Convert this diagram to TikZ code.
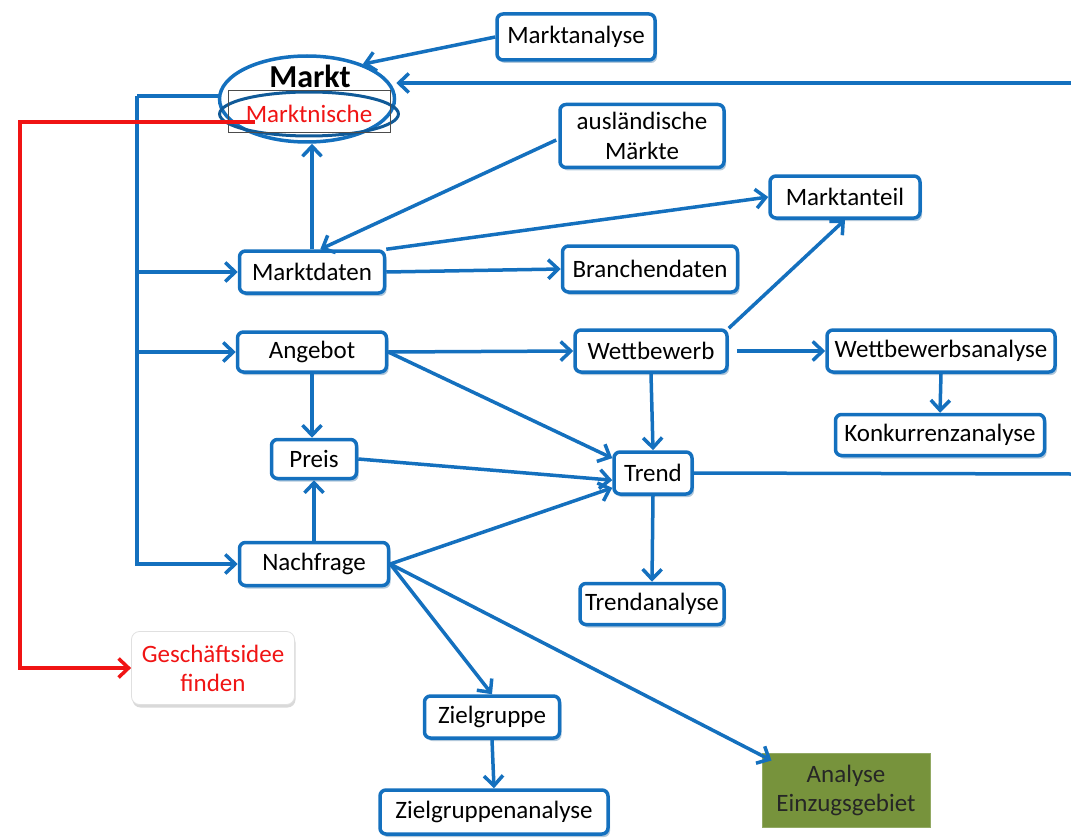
\documentclass[tikz,border=0pt]{standalone}
\usepackage{fontspec}
\setmainfont{Carlito}
\usetikzlibrary{arrows.meta,shapes.geometric,shadows}
\definecolor{cblue}{RGB}{20,112,190}
\definecolor{cred}{RGB}{240,20,20}
\definecolor{colive}{RGB}{119,147,60}
\begin{document}
\begin{tikzpicture}[x=1pt,y=-1pt,
  font=\fontsize{25}{29}\selectfont,
  box/.style={draw=cblue,line width=3.5pt,rounded corners=6pt,fill=white,inner sep=0pt,
     drop shadow={shadow xshift=2pt,shadow yshift=-3pt,opacity=0.4,fill=cblue!60!gray}},
  arr/.style={draw=cblue,line width=3.5pt,-{Straight Barb[length=10pt,width=19pt,line width=3.5pt]}},
  ln/.style={draw=cblue,line width=3.5pt},
  redarr/.style={draw=cred,line width=3.5pt,-{Straight Barb[length=10pt,width=19pt,line width=3.5pt]}}
]
\useasboundingbox (0,0) rectangle (1071,840);
% Markt
\node[ellipse,draw=cblue,line width=3.5pt,fill=white,minimum width=175pt,minimum height=86pt,inner sep=0pt] (markt) at (307,99) {};
\node[font=\fontsize{32}{36}\selectfont\bfseries] (markttxt) at (310,76) {Markt};
\node[ellipse,draw=cblue!80!black,line width=3pt,minimum width=160pt,minimum height=44pt,inner sep=0pt,text=cred] (nische) at (309,114) {Marktnische};
\node[draw=black!70,line width=0.8pt,minimum width=162pt,minimum height=42pt,inner sep=0pt] (nrect) at (309,111) {};
% boxes
\node[box,minimum width=158pt,minimum height=46pt] (mana) at (576,37) {Marktanalyse};
\node[box,minimum width=164pt,minimum height=63pt,align=center,font=\fontsize{25}{30}\selectfont] (ausl) at (642,136) {ausländische\\Märkte};
\node[box,minimum width=150pt,minimum height=42pt] (manteil) at (845,197) {Marktanteil};
\node[box,minimum width=145pt,minimum height=42pt] (mdaten) at (312,272) {Marktdaten};
\node[box,minimum width=175pt,minimum height=46pt] (branchen) at (650,269) {Branchendaten};
\node[box,minimum width=149pt,minimum height=40pt] (angebot) at (312,352) {Angebot};
\node[box,minimum width=152pt,minimum height=42pt] (wett) at (651,351) {Wettbewerb};
\node[box,minimum width=228pt,minimum height=42pt] (wana) at (941,351) {Wettbewerbsanalyse};
\node[box,minimum width=209pt,minimum height=41pt] (konk) at (940,435) {Konkurrenzanalyse};
\node[box,minimum width=85pt,minimum height=39pt] (preis) at (314,459) {Preis};
\node[box,minimum width=78pt,minimum height=42pt] (trend) at (653,473) {Trend};
\node[box,minimum width=149pt,minimum height=43pt] (nachfrage) at (314,564) {Nachfrage};
\node[box,minimum width=144pt,minimum height=41pt] (tana) at (652,604) {Trendanalyse};
\node[box,minimum width=135pt,minimum height=42pt] (ziel) at (492,717) {Zielgruppe};
\node[box,minimum width=228pt,minimum height=44pt] (zana) at (494,812) {Zielgruppenanalyse};
\node[rounded corners=8pt,fill=white,draw=black!12,line width=0.8pt,minimum width=163pt,minimum height=73pt,inner sep=0pt,align=center,text=cred,
  drop shadow={shadow xshift=1pt,shadow yshift=-3pt,opacity=0.3,fill=gray}] (gesch) at (213,668) {Geschäftsidee\\finden};
\node[fill=colive,draw=colive!80!white,line width=1pt,minimum width=168pt,minimum height=74pt,inner sep=0pt,align=center,text=black!85] (einz) at (846,790) {Analyse\\Einzugsgebiet};
% coordinates
\coordinate (rtop) at (1071,83);
\coordinate (rtrend) at (1071,474);
\coordinate (busTop) at (137,96);
\coordinate (rs) at (255,122);
\coordinate (redcorner) at (20,122);
% connectors
\draw[arr] (mana.west) -- (markt.32);
\draw[arr] (rtop) -- (rtop -| markt.east);
\draw[ln] (markt.west |- busTop) -- (busTop);
\draw[arr] (busTop) |- (nachfrage.west);
\draw[arr] (busTop |- mdaten.west) -- (mdaten.west);
\draw[arr] (busTop |- angebot.west) -- (angebot.west);
\draw[redarr] (rs) -- (redcorner) |- (gesch.west);
\draw[arr] (mdaten.north) -- (mdaten.north |- markt.south);
\draw[arr] (ausl.west) ++(-2,4) -- (mdaten.70);
\draw[arr] (mdaten.north east) -- (manteil.west);
\draw[arr] (mdaten.east) -- (branchen.west);
\draw[arr] (angebot.east) -- (wett.west);
\draw[arr] (angebot.east) -- (trend.160);
\draw[arr] (angebot.south) -- (angebot.south |- preis.north);
\draw[arr] (wett.north east) -- (manteil.south);
\draw[arr] ([xshift=8pt]wett.east) -- (wana.west);
\draw[arr] (wett.south) -- (trend.north);
\draw[arr] (wana.south) -- (konk.north);
\draw[arr] (preis.east) -- (trend.190);
\draw[arr] (nachfrage.east) -- (trend.200);
\draw[arr] (nachfrage.north) -- (nachfrage.north |- preis.south);
\draw[arr] (trend.south) -- (tana.north);
\draw[ln] (trend.east) -- (rtrend);
\draw[arr] (nachfrage.east) -- (ziel.north);
\draw[arr] (nachfrage.east) -- ([shift={(10pt,-8pt)}]einz.north west);
\draw[arr] (ziel.south) -- (zana.north);
\end{tikzpicture}
\end{document}
